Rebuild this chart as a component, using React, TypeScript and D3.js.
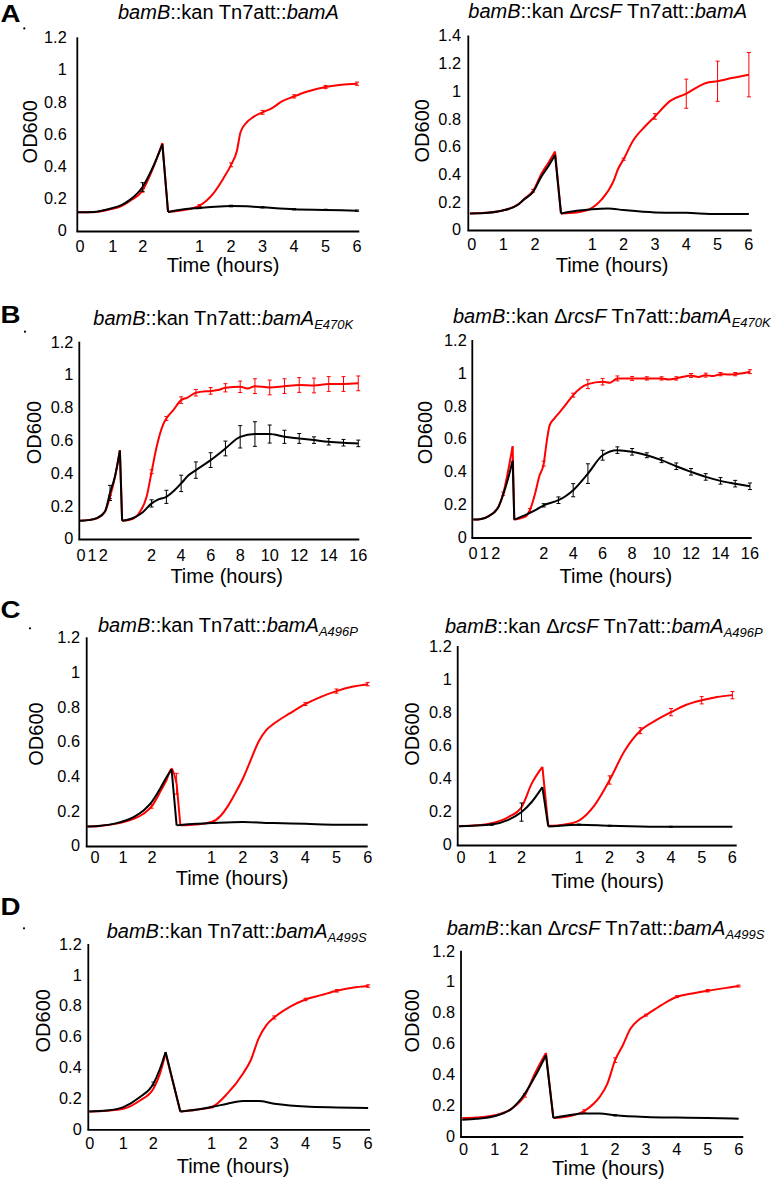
import React from 'react';
import * as d3 from 'd3';

type Pt = number[]; // [hour, OD600, error?]

// ---------- Panel A (left): bamB::kan Tn7att::bamA ----------
const aLRed1: Pt[] = [[0, 0.113], [0.5, 0.114], [1.04, 0.132], [1.4, 0.152], [1.67, 0.184], [2.07, 0.248, 0.01], [2.38, 0.376], [2.7, 0.543]];
const aLBlack1: Pt[] = [[0, 0.113], [0.5, 0.115], [1.04, 0.135], [1.4, 0.158], [1.67, 0.19], [2.07, 0.27, 0.027], [2.38, 0.385], [2.7, 0.535]];
const aLRed2: Pt[] = [[0, 0.115], [0.5, 0.127], [1, 0.155, 0.006], [1.44, 0.231], [1.76, 0.325], [2, 0.408, 0.012], [2.18, 0.49], [2.3, 0.61], [2.49, 0.67], [2.7, 0.704], [3, 0.734, 0.012], [3.3, 0.76], [3.6, 0.8], [4, 0.833, 0.01], [4.4, 0.862], [5, 0.891, 0.01], [5.5, 0.906], [6, 0.912, 0.01]];
const aLBlack2: Pt[] = [[0, 0.115], [0.5, 0.132], [1, 0.14, 0.004], [1.5, 0.148], [2, 0.152, 0.005], [2.5, 0.15], [3, 0.144, 0.004], [4, 0.132, 0.004], [5, 0.128, 0.004], [6, 0.123, 0.004]];

// ---------- Panel A (right): bamB::kan ΔrcsF Tn7att::bamA ----------
const aRRed1: Pt[] = [[0.05, 0.116], [0.53, 0.12], [1.06, 0.135], [1.6, 0.183], [1.8, 0.224], [2.07, 0.28, 0.01], [2.34, 0.405], [2.55, 0.478], [2.77, 0.562]];
const aRBlack1: Pt[] = [[0.05, 0.116], [0.53, 0.119], [1.06, 0.135], [1.6, 0.18], [1.8, 0.22], [2.07, 0.272], [2.34, 0.385], [2.55, 0.455], [2.77, 0.538]];
const aRRed2: Pt[] = [[0, 0.116], [0.5, 0.123], [0.9, 0.145], [1.3, 0.217], [1.67, 0.345], [1.83, 0.44], [2, 0.507, 0.008], [2.3, 0.64], [2.68, 0.743], [3, 0.816, 0.02], [3.5, 0.93], [4, 0.98, 0.105], [4.36, 1.028], [4.63, 1.057], [5, 1.07, 0.145], [5.45, 1.093], [6, 1.117, 0.16]];
const aRBlack2: Pt[] = [[0, 0.116], [0.5, 0.135], [1, 0.147], [1.5, 0.152], [2, 0.14], [3, 0.123], [4, 0.12], [5, 0.111], [6, 0.111]];

// ---------- Panel B (left): bamB::kan Tn7att::bamA E470K ----------
const bLRed1: Pt[] = [[0.05, 0.108], [0.6, 0.112], [1.17, 0.122], [1.74, 0.163], [2.08, 0.254, 0.01], [2.42, 0.376], [2.75, 0.539]];
const bLBlack1: Pt[] = [[0.05, 0.108], [0.6, 0.112], [1.17, 0.124], [1.74, 0.165], [2.08, 0.278, 0.046], [2.42, 0.38], [2.75, 0.535]];
const bLRed2: Pt[] = [[0, 0.108], [0.76, 0.122], [1.21, 0.163], [1.66, 0.254], [2, 0.407, 0.012], [2.34, 0.559], [2.79, 0.698], [3, 0.732, 0.012], [3.47, 0.783], [4, 0.844, 0.02], [4.4, 0.858], [5, 0.889, 0.02], [6, 0.9, 0.02], [6.5, 0.905], [7, 0.919, 0.025], [8, 0.925, 0.035], [8.5, 0.915], [9, 0.929, 0.045], [10, 0.921, 0.045], [11, 0.929, 0.045], [12, 0.936, 0.045], [13, 0.933, 0.045], [14, 0.942, 0.045], [15, 0.942, 0.045], [16, 0.946, 0.045]];
const bLBlack2: Pt[] = [[0, 0.108], [0.76, 0.125], [1.4, 0.16], [2, 0.214, 0.022], [2.5, 0.24], [3, 0.254, 0.04], [3.5, 0.29], [4, 0.336, 0.05], [4.5, 0.385], [5, 0.417, 0.05], [6, 0.478, 0.045], [7, 0.549, 0.045], [8, 0.62, 0.068], [9, 0.637, 0.075], [10, 0.637, 0.055], [11, 0.62, 0.04], [12, 0.61, 0.03], [13, 0.6, 0.02], [14, 0.59, 0.02], [15, 0.584, 0.02], [16, 0.58, 0.02]];

// ---------- Panel B (right): bamB::kan ΔrcsF Tn7att::bamA E470K ----------
const bRRed1: Pt[] = [[0.07, 0.106], [0.6, 0.11], [1.09, 0.126], [1.76, 0.183], [2.1, 0.264, 0.01], [2.44, 0.407], [2.74, 0.553]];
const bRBlack1: Pt[] = [[0.07, 0.106], [0.6, 0.11], [1.09, 0.126], [1.76, 0.18], [2.1, 0.26], [2.44, 0.36], [2.74, 0.465]];
const bRRed2: Pt[] = [[0, 0.106], [0.72, 0.122], [1.06, 0.163, 0.01], [1.4, 0.26], [1.7, 0.37], [2, 0.447, 0.015], [2.2, 0.58], [2.4, 0.68], [2.7, 0.72], [3, 0.752], [3.55, 0.813], [4, 0.864, 0.012], [4.46, 0.905], [5, 0.931, 0.027], [6, 0.946, 0.02], [6.5, 0.94], [7, 0.966, 0.015], [8, 0.966, 0.012], [9, 0.966, 0.01], [10, 0.966, 0.01], [10.5, 0.96], [11, 0.966, 0.01], [12, 0.984, 0.012], [12.5, 0.975], [13, 0.986, 0.012], [13.5, 0.98], [14, 0.992, 0.01], [14.5, 0.99], [15, 0.992, 0.01], [15.5, 0.998], [16, 1.007, 0.012]];
const bRBlack2: Pt[] = [[0, 0.106], [0.7, 0.132], [1.5, 0.167], [2, 0.193, 0.01], [3, 0.224, 0.02], [3.5, 0.25], [4, 0.285, 0.04], [5, 0.386, 0.06], [6, 0.498, 0.03], [7, 0.529, 0.02], [8, 0.519, 0.02], [9, 0.498, 0.015], [10, 0.468, 0.015], [11, 0.431, 0.02], [12, 0.397, 0.02], [13, 0.366, 0.02], [14, 0.342, 0.02], [15, 0.325, 0.02], [16, 0.309, 0.02]];

// ---------- Panel C (left): bamB::kan Tn7att::bamA A496P ----------
const cLRed1: Pt[] = [[0.02, 0.11], [0.43, 0.113], [0.96, 0.126], [1.5, 0.154], [1.82, 0.183], [2.08, 0.225, 0.01], [2.35, 0.308], [2.56, 0.379], [2.72, 0.443], [2.88, 0.356, 0.06]];
const cLBlack1: Pt[] = [[0.02, 0.11], [0.43, 0.114], [0.96, 0.129], [1.5, 0.164], [1.82, 0.202], [2.08, 0.25], [2.35, 0.327], [2.56, 0.395], [2.72, 0.437]];
const cLRed2: Pt[] = [[0, 0.116], [0.5, 0.121], [1, 0.135], [1.3, 0.173], [1.5, 0.221], [1.75, 0.299], [2, 0.385], [2.25, 0.491], [2.5, 0.597], [2.75, 0.665], [3, 0.703], [3.5, 0.761], [4, 0.815, 0.008], [4.5, 0.857], [5, 0.89, 0.012], [5.5, 0.915], [6, 0.93, 0.01]];
const cLBlack2: Pt[] = [[-0.12, 0.116], [0.5, 0.125], [1, 0.129], [2, 0.135], [3, 0.129], [4, 0.125], [5, 0.12], [6, 0.12]];

// ---------- Panel C (right): bamB::kan ΔrcsF Tn7att::bamA A496P ----------
const cRRed1: Pt[] = [[0.04, 0.111], [0.5, 0.115], [1.11, 0.129], [1.65, 0.166], [2.08, 0.226], [2.41, 0.368], [2.76, 0.469]];
const cRBlack1: Pt[] = [[0.04, 0.111], [0.5, 0.114], [1.11, 0.121, 0.005], [1.65, 0.149], [2.08, 0.196, 0.055], [2.41, 0.257], [2.76, 0.347]];
const cRRed2: Pt[] = [[0, 0.113], [0.5, 0.12], [1, 0.145], [1.5, 0.235], [2, 0.39, 0.025], [2.5, 0.57], [3, 0.688, 0.018], [3.5, 0.75], [4, 0.8, 0.022], [4.5, 0.845], [5, 0.872, 0.022], [5.5, 0.892], [6, 0.903, 0.022]];
const cRBlack2: Pt[] = [[0, 0.109], [0.5, 0.115], [1, 0.119, 0.004], [2, 0.113, 0.003], [3, 0.109], [4, 0.107, 0.003], [5, 0.107], [6, 0.107]];

// ---------- Panel D (left): bamB::kan Tn7att::bamA A499S ----------
const dLRed1: Pt[] = [[0.03, 0.113], [0.59, 0.118], [1.12, 0.13], [1.65, 0.184], [2.08, 0.26], [2.29, 0.358], [2.47, 0.49]];
const dLBlack1: Pt[] = [[0.03, 0.113], [0.59, 0.119], [1.12, 0.141], [1.65, 0.206], [2.08, 0.293, 0.01], [2.29, 0.39], [2.47, 0.499]];
const dLRed2: Pt[] = [[0, 0.113], [0.5, 0.124], [1, 0.141, 0.005], [1.5, 0.228], [2, 0.358], [2.25, 0.445], [2.5, 0.586], [2.75, 0.673], [3, 0.723, 0.01], [3.5, 0.792], [4, 0.84, 0.008], [4.5, 0.868], [5, 0.896, 0.008], [5.5, 0.916], [6, 0.927, 0.008]];
const dLBlack2: Pt[] = [[0, 0.113], [0.5, 0.124], [1, 0.141], [1.5, 0.163], [2, 0.18], [2.5, 0.18], [3, 0.163], [3.5, 0.152], [4, 0.145], [5, 0.139], [6, 0.135]];

// ---------- Panel D (right): bamB::kan ΔrcsF Tn7att::bamA A499S ----------
const dRRed1: Pt[] = [[0.04, 0.117], [0.5, 0.12], [1.1, 0.134], [1.64, 0.177], [2.07, 0.264, 0.012], [2.39, 0.404], [2.75, 0.538]];
const dRBlack1: Pt[] = [[0.04, 0.106], [0.5, 0.112], [1.1, 0.13], [1.64, 0.177], [2.07, 0.275], [2.39, 0.383], [2.75, 0.523]];
const dRRed2: Pt[] = [[0, 0.117], [0.5, 0.128], [1, 0.162, 0.008], [1.5, 0.253], [1.75, 0.339], [2, 0.491, 0.015], [2.25, 0.588], [2.5, 0.696], [2.75, 0.75], [3, 0.783, 0.006], [3.5, 0.848], [4, 0.902, 0.006], [4.5, 0.923], [5, 0.941, 0.008], [5.5, 0.956], [6, 0.971, 0.006]];
const dRBlack2: Pt[] = [[0, 0.117], [0.5, 0.134], [1, 0.145], [1.5, 0.145], [2, 0.134, 0.004], [3, 0.123, 0.003], [4, 0.119], [5, 0.117, 0.003], [6, 0.112]];

// ---------- Tick labels ----------
const yTicks12 = [0, 0.2, 0.4, 0.6, 0.8, 1, 1.2];
const yTicks14 = [0, 0.2, 0.4, 0.6, 0.8, 1, 1.2, 1.4];
const phase1Labels = ['0', '1', '2'];
const phase2Hours6 = [1, 2, 3, 4, 5, 6];
const phase2Hours16 = [2, 4, 6, 8, 10, 12, 14, 16];
// phase-1 tick positions (hours from start of the plotted record)
const aLP1Ticks = [0.09, 1.13, 2.08];
const aRP1Ticks = [0.11, 1.12, 2.13];
const bLP1Ticks = [0.12, 0.87, 1.62];
const bRP1Ticks = [0.05, 0.82, 1.6];
const cLP1Ticks = [0.27, 1.16, 2.09];
const cRP1Ticks = [0.11, 1.13, 2.08];
const dLP1Ticks = [0.05, 1.12, 2.08];
const dRP1Ticks = [0.08, 1.09, 2.04];

// ---------- Titles ----------
type Seg = [string, 'i' | 'n' | 's'];
const tA_L: Seg[] = [['bamB', 'i'], ['::kan Tn7att::', 'n'], ['bamA', 'i']];
const tA_R: Seg[] = [['bamB', 'i'], ['::kan \u0394', 'n'], ['rcsF', 'i'], [' Tn7att::', 'n'], ['bamA', 'i']];
const tB_L: Seg[] = [...tA_L, ['E470K', 's']];
const tB_R: Seg[] = [...tA_R, ['E470K', 's']];
const tC_L: Seg[] = [...tA_L, ['A496P', 's']];
const tC_R: Seg[] = [...tA_R, ['A496P', 's']];
const tD_L: Seg[] = [...tA_L, ['A499S', 's']];
const tD_R: Seg[] = [...tA_R, ['A499S', 's']];

const FONT = '"Liberation Sans", Arial, Helvetica, sans-serif';
const RED = '#ff0000';
const BLACK = '#000000';

interface Layout {
  ax: number; ae: number; y0: number; yTop: number; yMax: number; tMax: number; s2: number;
  yGap: number; tickY: number; xTitle: number[]; yTitle: number[]; title: number[];
}

const L: Record<string, Layout> = {
  aL: { ax: 77.3, ae: 359.3, y0: 230.5, yTop: 37.3, yMax: 1.2, tMax: 8.95, s2: 2.88, yGap: 10.6, tickY: 245.8, xTitle: [223, 271.6], yTitle: [30, 131.7], title: [118, 18.5] },
  aR: { ax: 468.3, ae: 751.7, y0: 229.5, yTop: 35.5, yMax: 1.4, tMax: 9.05, s2: 2.96, yGap: 7.3, tickY: 244.5, xTitle: [612, 271.5], yTitle: [421.7, 130.8], title: [468.3, 18] },
  bL: { ax: 79.3, ae: 359.3, y0: 538.5, yTop: 341.7, yMax: 1.2, tMax: 18.97, s2: 2.9, yGap: 6, tickY: 555, xTitle: [226.7, 583], yTitle: [33.3, 432.5], title: [93.3, 325] },
  bR: { ax: 472.3, ae: 751.7, y0: 537, yTop: 340, yMax: 1.2, tMax: 18.97, s2: 2.85, yGap: 5.6, tickY: 553, xTitle: [615.8, 583], yTitle: [425, 432.5], title: [453, 323.3] },
  cL: { ax: 86.7, ae: 367.7, y0: 845.5, yTop: 637.3, yMax: 1.2, tMax: 9.0, s2: 3.0, yGap: 6.7, tickY: 857, xTitle: [232, 885], yTitle: [35.8, 734], title: [98, 631.5] },
  cR: { ax: 457.7, ae: 736.7, y0: 844.5, yTop: 646, yMax: 1.2, tMax: 9.09, s2: 2.95, yGap: 6, tickY: 857, xTitle: [607.5, 888], yTitle: [411.7, 734], title: [445, 633.3] },
  dL: { ax: 88.3, ae: 370, y0: 1128.8, yTop: 944, yMax: 1.2, tMax: 9.0, s2: 2.94, yGap: 6.6, tickY: 1143.3, xTitle: [233, 1173], yTitle: [42.5, 1020.8], title: [106.7, 937.5] },
  dR: { ax: 461, ae: 743.3, y0: 1136, yTop: 950.7, yMax: 1.2, tMax: 9.14, s2: 2.99, yGap: 6, tickY: 1148.8, xTitle: [608.3, 1175], yTitle: [411.7, 1020.8], title: [446.7, 935] },
};

interface PanelProps {
  lay: Layout; title: Seg[]; yTicks: number[]; p1Ticks: number[]; p2Hours: number[];
  red1: Pt[]; red2: Pt[]; black1: Pt[]; black2: Pt[];
}

function Series({ p1, p2, x, y, s2, color }: { p1: Pt[]; p2: Pt[]; x: any; y: any; s2: number; color: string }) {
  const line = d3.line<number[]>().x((d) => d[0]).y((d) => d[1]).curve(d3.curveMonotoneX);
  const a = p1.map((d) => [x(d[0]), y(d[1])]);
  const b = p2.map((d) => [x(s2 + d[0]), y(d[1])]);
  const conn = d3.line<number[]>().x((d) => d[0]).y((d) => d[1])([a[a.length - 1], b[0]]);
  const errs = [
    ...p1.filter((d) => d.length > 2).map((d) => ({ t: d[0], v: d[1], e: d[2] })),
    ...p2.filter((d) => d.length > 2).map((d) => ({ t: s2 + d[0], v: d[1], e: d[2] })),
  ];
  return (
    <g>
      <path d={line(a) || ''} fill="none" stroke={color} strokeWidth={2} strokeLinejoin="round" />
      <path d={conn || ''} fill="none" stroke={color} strokeWidth={2} strokeLinejoin="round" />
      <path d={line(b) || ''} fill="none" stroke={color} strokeWidth={2} strokeLinejoin="round" />
      {errs.map((d, i) => {
        const cx = x(d.t);
        const yt = y(d.v + d.e);
        const yb = y(d.v - d.e);
        return (
          <g key={i} stroke={color} strokeWidth={1}>
            <line x1={cx} x2={cx} y1={yt} y2={yb} />
            <line x1={cx - 2} x2={cx + 2} y1={yt} y2={yt} />
            <line x1={cx - 2} x2={cx + 2} y1={yb} y2={yb} />
          </g>
        );
      })}
    </g>
  );
}

function Panel({ lay, title, yTicks, p1Ticks, p2Hours, red1, red2, black1, black2 }: PanelProps) {
  const x = d3.scaleLinear().domain([0, lay.tMax]).range([lay.ax, lay.ae]);
  const y = d3.scaleLinear().domain([0, lay.yMax]).range([lay.y0, lay.yTop]);
  const tfs = 16.3;
  return (
    <g fontFamily={FONT}>
      <text x={lay.title[0]} y={lay.title[1]} fontSize={20} fill="#000">
        {title.map((s, i) =>
          s[1] === 's' ? (
            <tspan key={i} fontStyle="italic" fontSize={13} dy={4}>{s[0]}</tspan>
          ) : (
            <tspan key={i} fontStyle={s[1] === 'i' ? 'italic' : 'normal'}>{s[0]}</tspan>
          )
        )}
      </text>
      {yTicks.map((v) => (
        <text key={'y' + v} x={lay.ax - lay.yGap} y={y(v) + 0.36 * tfs} fontSize={tfs} textAnchor="end" fill="#000">
          {String(v)}
        </text>
      ))}
      {p1Ticks.map((t, i) => (
        <text key={'p1' + i} x={x(t)} y={lay.tickY + 0.36 * tfs} fontSize={tfs} textAnchor="middle" fill="#000">
          {phase1Labels[i]}
        </text>
      ))}
      {p2Hours.map((h) => (
        <text key={'p2' + h} x={x(lay.s2 + h)} y={lay.tickY + 0.36 * tfs} fontSize={tfs} textAnchor="middle" fill="#000">
          {String(h)}
        </text>
      ))}
      <text x={lay.xTitle[0]} y={lay.xTitle[1]} fontSize={20} textAnchor="middle" fill="#000">Time (hours)</text>
      <text
        transform={`translate(${lay.yTitle[0] + 7.2},${lay.yTitle[1]}) rotate(-90)`}
        fontSize={20}
        textAnchor="middle"
        fill="#000"
      >
        OD600
      </text>
      <Series p1={red1} p2={red2} x={x} y={y} s2={lay.s2} color={RED} />
      <Series p1={black1} p2={black2} x={x} y={y} s2={lay.s2} color={BLACK} />
      <line x1={lay.ax} x2={lay.ax} y1={y(0) + 1} y2={y(lay.yMax)} stroke="#000" strokeWidth={1.8} />
      <line x1={lay.ax - 0.9} x2={lay.ae} y1={y(0) + 1} y2={y(0) + 1} stroke="#000" strokeWidth={1.8} />
    </g>
  );
}

function Letter({ ch, x, y, dx, dy }: { ch: string; x: number; y: number; dx: number; dy: number }) {
  return (
    <g>
      <text transform={`translate(${x},${y}) scale(1.18,1)`} fontFamily={FONT} fontWeight="bold" fontSize={23.5} fill="#000">
        {ch}
      </text>
      <circle cx={dx} cy={dy} r={1.1} fill="#000" />
    </g>
  );
}

export default function App() {
  return (
    <svg width={771} height={1180} style={{ position: 'absolute', left: 0, top: 0, background: '#fff' }}>
      <rect x={0} y={0} width={771} height={1180} fill="#fff" />
      <Letter ch="A" x={0.5} y={21.7} dx={24.3} dy={28.4} />
      <Letter ch="B" x={0.5} y={323.3} dx={25} dy={331.7} />
      <Letter ch="C" x={0.5} y={617.8} dx={30} dy={628.3} />
      <Letter ch="D" x={0.5} y={915} dx={24} dy={928.3} />
      <Panel lay={L.aL} title={tA_L} yTicks={yTicks12} p1Ticks={aLP1Ticks} p2Hours={phase2Hours6} red1={aLRed1} red2={aLRed2} black1={aLBlack1} black2={aLBlack2} />
      <Panel lay={L.aR} title={tA_R} yTicks={yTicks14} p1Ticks={aRP1Ticks} p2Hours={phase2Hours6} red1={aRRed1} red2={aRRed2} black1={aRBlack1} black2={aRBlack2} />
      <Panel lay={L.bL} title={tB_L} yTicks={yTicks12} p1Ticks={bLP1Ticks} p2Hours={phase2Hours16} red1={bLRed1} red2={bLRed2} black1={bLBlack1} black2={bLBlack2} />
      <Panel lay={L.bR} title={tB_R} yTicks={yTicks12} p1Ticks={bRP1Ticks} p2Hours={phase2Hours16} red1={bRRed1} red2={bRRed2} black1={bRBlack1} black2={bRBlack2} />
      <Panel lay={L.cL} title={tC_L} yTicks={yTicks12} p1Ticks={cLP1Ticks} p2Hours={phase2Hours6} red1={cLRed1} red2={cLRed2} black1={cLBlack1} black2={cLBlack2} />
      <Panel lay={L.cR} title={tC_R} yTicks={yTicks12} p1Ticks={cRP1Ticks} p2Hours={phase2Hours6} red1={cRRed1} red2={cRRed2} black1={cRBlack1} black2={cRBlack2} />
      <Panel lay={L.dL} title={tD_L} yTicks={yTicks12} p1Ticks={dLP1Ticks} p2Hours={phase2Hours6} red1={dLRed1} red2={dLRed2} black1={dLBlack1} black2={dLBlack2} />
      <Panel lay={L.dR} title={tD_R} yTicks={yTicks12} p1Ticks={dRP1Ticks} p2Hours={phase2Hours6} red1={dRRed1} red2={dRRed2} black1={dRBlack1} black2={dRBlack2} />
    </svg>
  );
}
